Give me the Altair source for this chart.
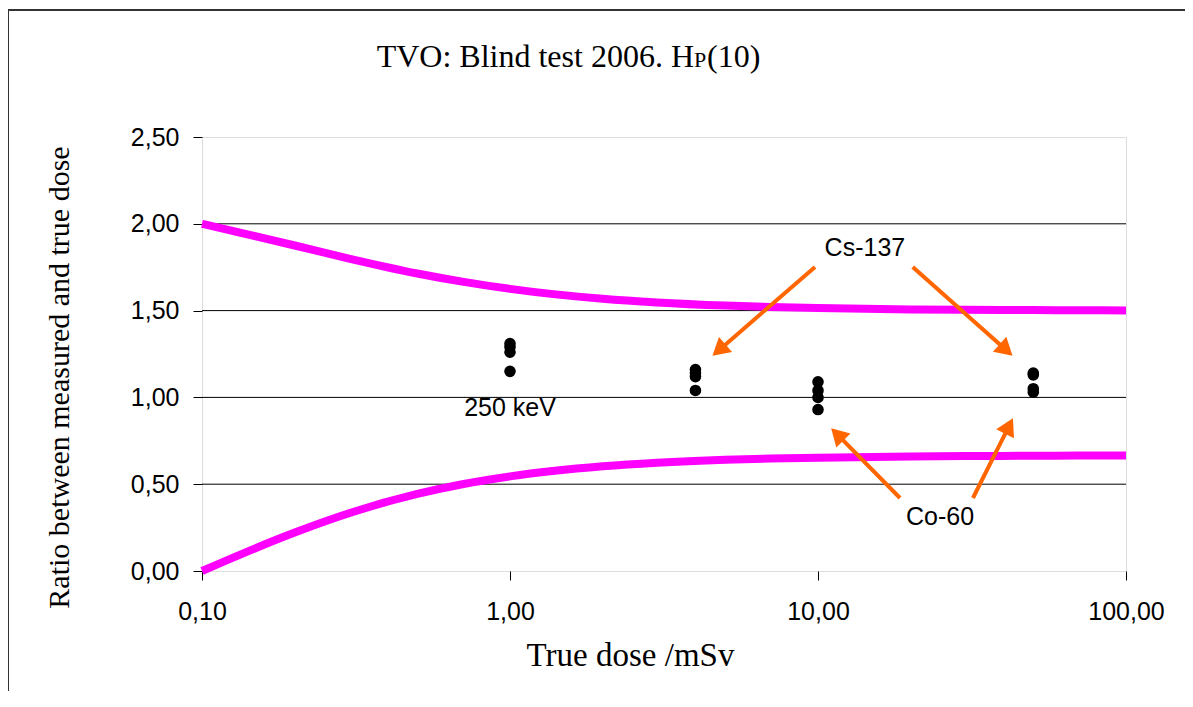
import altair as alt
import pandas as pd

# ---- data ----
limit_dose = [0.1, 0.2, 0.3, 0.5, 0.7, 1, 2, 3, 5, 7, 10, 20, 30, 50, 70, 100]
upper_limit = [2.00, 1.875, 1.80, 1.714, 1.667, 1.625, 1.568, 1.547, 1.529, 1.521,
               1.515, 1.507, 1.505, 1.503, 1.502, 1.501]
lower_limit = [0.00, 0.222, 0.333, 0.444, 0.500, 0.545, 0.603, 0.624, 0.641, 0.648,
               0.653, 0.660, 0.662, 0.664, 0.665, 0.666]

point_dose = [1, 1, 1, 1, 4, 4, 4, 4, 10, 10, 10, 10, 50, 50, 50, 50]
point_ratio = [1.31, 1.29, 1.26, 1.15,
               1.16, 1.14, 1.12, 1.04,
               1.09, 1.04, 1.00, 0.93,
               1.14, 1.13, 1.05, 1.03]

# annotation arrows (data coordinates)
arrow_x_start = [9.78, 20.3, 18.46, 31.85]
arrow_y_start = [1.751, 1.751, 0.4205, 0.4205]
arrow_x_head = [4.77, 40.8, 11.55, 41.7]
arrow_y_head = [1.272, 1.273, 0.787, 0.835]
arrow_angle = [229, 132, 315, 27]

label_text = ["Cs-137", "Co-60", "250 keV"]
label_x = [14.2, 24.9, 1.0]
label_y = [1.861, 0.311, 0.939]

grid_values = [0.5, 1.0, 1.5, 2.0]
x_ticks = [0.1, 1, 10, 100]
y_ticks = [0, 0.5, 1.0, 1.5, 2.0, 2.5]

# ---- tables ----
curves = pd.DataFrame({
    "dose": limit_dose * 2,
    "ratio": upper_limit + lower_limit,
    "limit": ["upper"] * len(limit_dose) + ["lower"] * len(limit_dose),
})
points = pd.DataFrame({"dose": point_dose, "ratio": point_ratio})
arrows = pd.DataFrame({"xs": arrow_x_start, "ys": arrow_y_start,
                       "dose": arrow_x_head, "ratio": arrow_y_head,
                       "angle": arrow_angle})
labels = pd.DataFrame({"dose": label_x, "ratio": label_y, "text": label_text})
grid = pd.DataFrame({"ratio": grid_values})

comma = "replace(format(datum.value, '.2f'), '.', ',')"
xs = alt.Scale(type="log", domain=[0.1, 100], nice=False)
ys = alt.Scale(domain=[0, 2.5], nice=False, zero=False)
xa = alt.Axis(values=x_ticks, labelExpr=comma, grid=False, domain=False,
              tickSize=9, tickColor="black", tickWidth=1,
              labelFont="Liberation Sans", labelFontSize=25, labelColor="black",
              labelPadding=19, labelFlush=False, labelOverlap=False,
              title="True dose /mSv", titleFont="Liberation Serif",
              titleFontSize=33, titleFontWeight="normal", titleColor="black",
              titleX=428, titleY=84, titleBaseline="middle", titleAlign="center")
ya = alt.Axis(values=y_ticks, labelExpr=comma, grid=False, domain=False,
              tickSize=9, tickColor="black", tickWidth=1,
              labelFont="Liberation Sans", labelFontSize=25, labelColor="black",
              labelPadding=14, labelOverlap=False,
              title="Ratio between measured and true dose",
              titleFont="Liberation Serif", titleFontSize=30,
              titleFontWeight="normal", titleColor="black",
              titleX=-143, titleY=240, titleAngle=270,
              titleBaseline="middle", titleAlign="center")


def X(f="dose"):
    return alt.X(f, type="quantitative", scale=xs, axis=xa)


def Y(f="ratio"):
    return alt.Y(f, type="quantitative", scale=ys, axis=ya)


one = pd.DataFrame({"k": [0]})

grid_layer = alt.Chart(grid).mark_rule(color="black", strokeWidth=1).encode(y=Y())

frame_left = alt.Chart(one).mark_rule(color="#333333", strokeWidth=2).encode(
    x=alt.value(-194), y=alt.value(-127), y2=alt.value(554))
frame_top = alt.Chart(one).mark_rule(color="#333333", strokeWidth=2).encode(
    x=alt.value(-194), x2=alt.value(983), y=alt.value(-127))

curve_layer = alt.Chart(curves).mark_line(
    color="#FF00FF", strokeWidth=8, interpolate="monotone").encode(
    x=X(), y=Y(), detail="limit:N")

shafts = alt.Chart(arrows).mark_rule(color="#FF6600", strokeWidth=4).encode(
    x=X("xs"), y=Y("ys"), x2="dose", y2="ratio")
heads = alt.Chart(arrows).mark_point(
    shape="triangle-up", filled=True, color="#FF6600", opacity=1, size=400).encode(
    x=X(), y=Y(), angle=alt.Angle("angle:Q", scale=None))

point_layer = alt.Chart(points).mark_circle(color="black", opacity=1, size=135).encode(
    x=X(), y=Y())

label_layer = alt.Chart(labels).mark_text(
    font="Liberation Sans", fontSize=25, color="black", align="center",
    baseline="middle").encode(x=X(), y=Y(), text="text:N")

t1 = alt.Chart(one).mark_text(text="TVO: Blind test 2006. H", font="Liberation Serif",
                              fontSize=32, align="right", baseline="alphabetic",
                              color="black").encode(x=alt.value(492), y=alt.value(-70))
t2 = alt.Chart(one).mark_text(text="P", font="Liberation Serif", fontSize=22,
                              align="left", baseline="alphabetic",
                              color="black").encode(x=alt.value(492), y=alt.value(-70))
t3 = alt.Chart(one).mark_text(text="(10)", font="Liberation Serif", fontSize=32,
                              align="left", baseline="alphabetic",
                              color="black").encode(x=alt.value(505), y=alt.value(-70))

chart = alt.layer(
    grid_layer, frame_left, frame_top, curve_layer, shafts, heads,
    point_layer, label_layer, t1, t2, t3
).properties(
    width=924, height=434,
    autosize=alt.AutoSizeParams(type="none"),
    padding={"left": 194, "top": 129, "right": 59, "bottom": 120},
).configure_view(stroke="#808080", strokeWidth=2).configure(background="white")

chart.save("out.html", embed_options={"renderer": "svg", "actions": False})
